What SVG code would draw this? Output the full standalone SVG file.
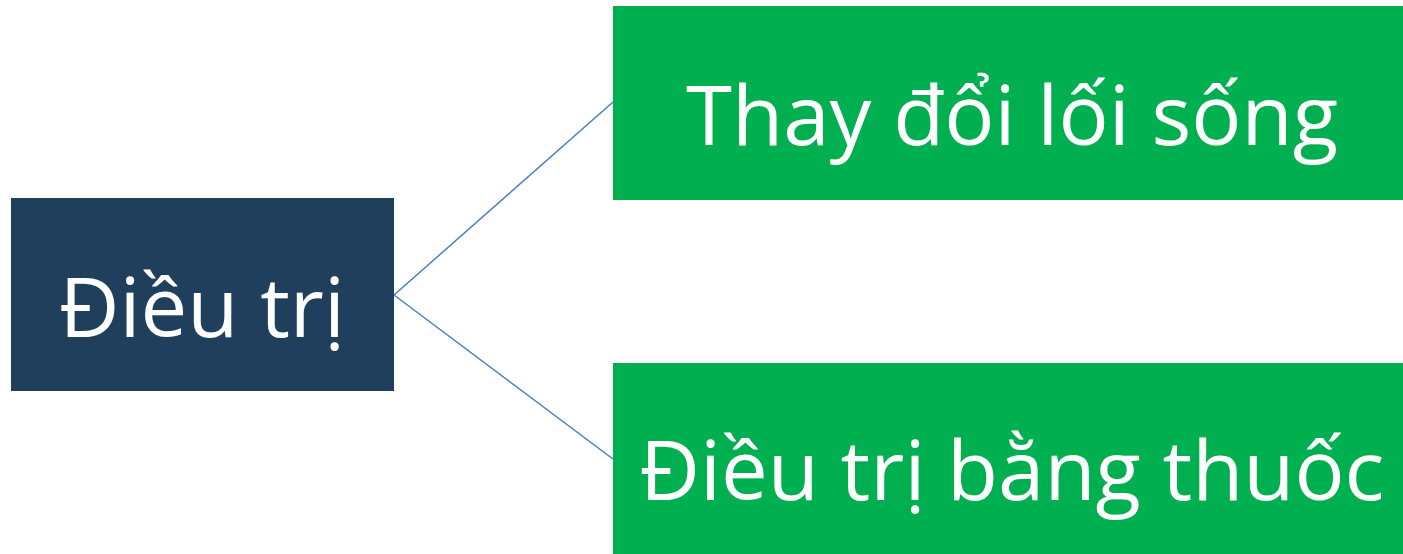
<svg xmlns="http://www.w3.org/2000/svg" width="1403" height="554" viewBox="0 0 1403 554">
<style>
.t{font-family:"Open Sans","Liberation Sans",sans-serif;fill:#fff;text-anchor:middle}
.g{fill:#00B050}
.c{stroke:#4A7EC0;stroke-width:1.5;fill:none}
</style>
<rect width="1403" height="554" fill="#fff"/>
<g id="connectors">
<line class="c" x1="394" y1="295" x2="613" y2="102"/>
<line class="c" x1="394" y1="295" x2="613" y2="459"/>
</g>
<g id="root">
<rect x="11" y="198" width="383" height="193" fill="#1F3F5C"/>
<text class="t" x="202" y="337" font-size="82" textLength="286" lengthAdjust="spacingAndGlyphs">Điều trị</text>
</g>
<g id="n1">
<rect class="g" x="613" y="6" width="790" height="194"/>
<text class="t" x="1012" y="145" font-size="82" textLength="652" lengthAdjust="spacingAndGlyphs">Thay đổi lối sống</text>
</g>
<g id="n2">
<rect class="g" x="613" y="363" width="790" height="191"/>
<text class="t" x="1012" y="500" font-size="82" textLength="745" lengthAdjust="spacingAndGlyphs">Điều trị bằng thuốc</text>
</g>
</svg>
